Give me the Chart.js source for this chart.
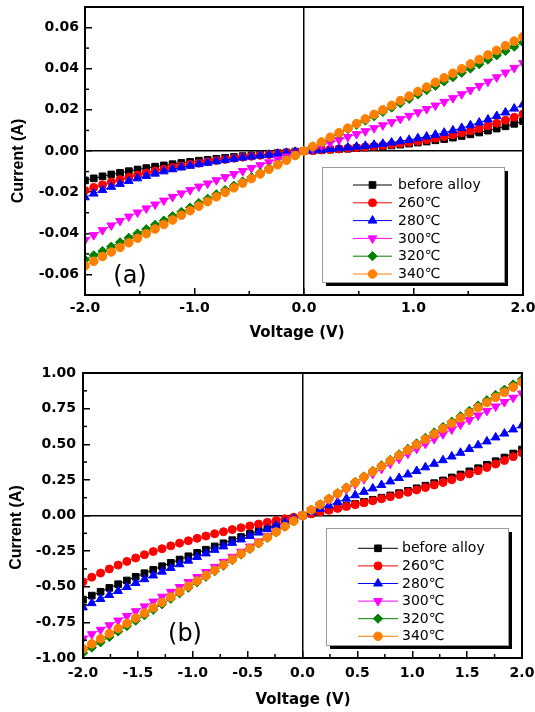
<!DOCTYPE html>
<html>
<head>
<meta charset="utf-8">
<script src="https://cdn.jsdelivr.net/npm/chart.js@4/dist/chart.umd.min.js"></script>
<style>
html,body{margin:0;padding:0;background:#fff;width:535px;height:712px;overflow:hidden}
.wrap{position:absolute;left:0;width:535px}
canvas{display:block}
</style>
</head>
<body>
<div class="wrap" style="top:0;height:342px"><canvas id="ca"></canvas></div>
<div class="wrap" style="top:342px;height:370px"><canvas id="cb"></canvas></div>
<script>
// ---------------- DATA ----------------
const voltage = [-2.00,-1.92,-1.84,-1.76,-1.68,-1.60,-1.52,-1.44,-1.36,-1.28,-1.20,-1.12,-1.04,-0.96,-0.88,-0.80,-0.72,-0.64,-0.56,-0.48,-0.40,-0.32,-0.24,-0.16,-0.08,0.00,0.08,0.16,0.24,0.32,0.40,0.48,0.56,0.64,0.72,0.80,0.88,0.96,1.04,1.12,1.20,1.28,1.36,1.44,1.52,1.60,1.68,1.76,1.84,1.92,2.00];

const seriesNames = ['before alloy','260\u2103','280\u2103','300\u2103','320\u2103','340\u2103'];

// panel (a) currents (A)
const aBefore = [-0.0143,-0.0133,-0.0123,-0.0114,-0.0106,-0.0098,-0.0090,-0.0083,-0.0076,-0.0070,-0.0064,-0.0058,-0.0053,-0.0047,-0.0043,-0.0038,-0.0033,-0.0029,-0.0025,-0.0021,-0.0018,-0.0014,-0.0010,-0.0007,-0.0003,0,
  0.0002,0.0004,0.0007,0.0009,0.0011,0.0014,0.0017,0.0020,0.0023,0.0027,0.0031,0.0036,0.0041,0.0046,0.0052,0.0058,0.0065,0.0073,0.0081,0.0090,0.0099,0.0109,0.0120,0.0132,0.0145];
const a260 = [-0.0192,-0.0177,-0.0164,-0.0151,-0.0139,-0.0127,-0.0117,-0.0107,-0.0097,-0.0089,-0.0080,-0.0073,-0.0065,-0.0059,-0.0052,-0.0046,-0.0041,-0.0035,-0.0030,-0.0026,-0.0021,-0.0017,-0.0012,-0.0008,-0.0004,0,
  0.0002,0.0005,0.0007,0.0010,0.0013,0.0016,0.0019,0.0023,0.0027,0.0032,0.0037,0.0042,0.0048,0.0055,0.0062,0.0070,0.0079,0.0088,0.0098,0.0109,0.0122,0.0135,0.0149,0.0164,0.0180];
const a280 = [-0.0225,-0.0207,-0.0190,-0.0174,-0.0160,-0.0146,-0.0133,-0.0121,-0.0110,-0.0099,-0.0089,-0.0080,-0.0072,-0.0064,-0.0057,-0.0050,-0.0044,-0.0038,-0.0032,-0.0027,-0.0022,-0.0018,-0.0013,-0.0009,-0.0004,0,
  0.0003,0.0006,0.0010,0.0013,0.0017,0.0021,0.0025,0.0030,0.0035,0.0041,0.0047,0.0054,0.0062,0.0070,0.0079,0.0089,0.0100,0.0112,0.0125,0.0138,0.0153,0.0170,0.0187,0.0206,0.0226];
const a300 = [-0.0433,-0.0409,-0.0385,-0.0362,-0.0340,-0.0319,-0.0299,-0.0279,-0.0260,-0.0241,-0.0223,-0.0206,-0.0190,-0.0173,-0.0158,-0.0142,-0.0127,-0.0112,-0.0097,-0.0083,-0.0069,-0.0055,-0.0041,-0.0027,-0.0014,0,
  0.0013,0.0027,0.0040,0.0054,0.0068,0.0082,0.0096,0.0111,0.0125,0.0140,0.0156,0.0171,0.0188,0.0204,0.0221,0.0239,0.0257,0.0276,0.0296,0.0316,0.0337,0.0358,0.0381,0.0404,0.0428];
const a320 = [-0.0528,-0.0507,-0.0486,-0.0465,-0.0444,-0.0422,-0.0401,-0.0380,-0.0359,-0.0338,-0.0317,-0.0296,-0.0275,-0.0253,-0.0232,-0.0211,-0.0190,-0.0169,-0.0148,-0.0127,-0.0106,-0.0084,-0.0063,-0.0042,-0.0021,0,
  0.0021,0.0042,0.0063,0.0084,0.0106,0.0127,0.0148,0.0169,0.0190,0.0211,0.0232,0.0253,0.0275,0.0296,0.0317,0.0338,0.0359,0.0380,0.0401,0.0422,0.0444,0.0465,0.0486,0.0507,0.0528];
const a340 = [-0.0558,-0.0536,-0.0513,-0.0491,-0.0469,-0.0446,-0.0424,-0.0402,-0.0379,-0.0357,-0.0335,-0.0312,-0.0290,-0.0268,-0.0246,-0.0223,-0.0201,-0.0179,-0.0156,-0.0134,-0.0112,-0.0089,-0.0067,-0.0045,-0.0022,0,
  0.0022,0.0044,0.0067,0.0089,0.0111,0.0133,0.0156,0.0178,0.0200,0.0222,0.0245,0.0267,0.0289,0.0311,0.0334,0.0356,0.0378,0.0400,0.0423,0.0445,0.0467,0.0489,0.0512,0.0534,0.0556];

// panel (b) currents (A)
const bBefore = [-0.590,-0.562,-0.535,-0.508,-0.482,-0.456,-0.430,-0.405,-0.381,-0.356,-0.332,-0.309,-0.286,-0.262,-0.240,-0.217,-0.195,-0.173,-0.151,-0.129,-0.107,-0.086,-0.064,-0.043,-0.021,0,
  0.013,0.027,0.040,0.054,0.067,0.081,0.096,0.110,0.125,0.141,0.157,0.173,0.191,0.209,0.227,0.246,0.267,0.288,0.310,0.332,0.356,0.381,0.407,0.435,0.463];
const b260 = [-0.465,-0.433,-0.404,-0.375,-0.348,-0.322,-0.298,-0.275,-0.253,-0.233,-0.213,-0.194,-0.177,-0.160,-0.144,-0.128,-0.114,-0.099,-0.086,-0.073,-0.060,-0.048,-0.035,-0.023,-0.012,0,
  0.012,0.025,0.037,0.050,0.063,0.076,0.089,0.103,0.117,0.132,0.147,0.163,0.179,0.196,0.214,0.232,0.251,0.272,0.292,0.314,0.337,0.361,0.386,0.413,0.440];
const b280 = [-0.645,-0.615,-0.586,-0.558,-0.530,-0.502,-0.474,-0.447,-0.421,-0.394,-0.368,-0.342,-0.317,-0.291,-0.266,-0.241,-0.217,-0.192,-0.168,-0.144,-0.120,-0.096,-0.072,-0.048,-0.024,0,
  0.024,0.047,0.071,0.094,0.118,0.142,0.166,0.190,0.214,0.239,0.263,0.288,0.312,0.338,0.363,0.388,0.414,0.440,0.467,0.493,0.520,0.548,0.575,0.604,0.632];
const b300 = [-0.864,-0.833,-0.802,-0.770,-0.737,-0.705,-0.672,-0.638,-0.604,-0.570,-0.536,-0.502,-0.467,-0.432,-0.397,-0.361,-0.325,-0.290,-0.254,-0.218,-0.182,-0.145,-0.109,-0.073,-0.036,0,
  0.037,0.073,0.110,0.147,0.183,0.219,0.256,0.292,0.327,0.363,0.398,0.434,0.468,0.503,0.537,0.571,0.604,0.638,0.670,0.702,0.734,0.765,0.796,0.826,0.856];
const b320 = [-0.965,-0.927,-0.890,-0.852,-0.814,-0.776,-0.738,-0.700,-0.662,-0.623,-0.585,-0.546,-0.507,-0.469,-0.430,-0.391,-0.352,-0.313,-0.274,-0.235,-0.196,-0.157,-0.118,-0.078,-0.039,0,
  0.039,0.078,0.118,0.157,0.196,0.235,0.274,0.313,0.352,0.390,0.429,0.468,0.506,0.545,0.583,0.621,0.659,0.697,0.734,0.772,0.809,0.846,0.883,0.920,0.956];
const b340 = [-0.936,-0.901,-0.865,-0.829,-0.793,-0.757,-0.720,-0.684,-0.647,-0.610,-0.572,-0.535,-0.497,-0.460,-0.422,-0.384,-0.346,-0.308,-0.269,-0.231,-0.193,-0.154,-0.116,-0.077,-0.039,0,
  0.039,0.077,0.116,0.154,0.193,0.231,0.269,0.308,0.346,0.384,0.422,0.460,0.497,0.535,0.572,0.610,0.647,0.684,0.720,0.757,0.793,0.829,0.865,0.901,0.936];

// tick values and labels
const aXMajor = [-2, -1, 0, 1, 2];
const aXLabels = ['-2.0', '-1.0', '0.0', '1.0', '2.0'];
const aXMinor = [-1.5, -0.5, 0.5, 1.5];
const aYMajor = [-0.06, -0.04, -0.02, 0, 0.02, 0.04, 0.06];
const aYLabels = ['-0.06', '-0.04', '-0.02', '0.00', '0.02', '0.04', '0.06'];
const aYMinor = [-0.05, -0.03, -0.01, 0.01, 0.03, 0.05];

const bXMajor = [-2, -1.5, -1, -0.5, 0, 0.5, 1, 1.5, 2];
const bXLabels = ['-2.0', '-1.5', '-1.0', '-0.5', '0.0', '0.5', '1.0', '1.5', '2.0'];
const bXMinor = [-1.75, -1.25, -0.75, -0.25, 0.25, 0.75, 1.25, 1.75];
const bYMajor = [-1, -0.75, -0.5, -0.25, 0, 0.25, 0.5, 0.75, 1];
const bYLabels = ['-1.00', '-0.75', '-0.50', '-0.25', '0.00', '0.25', '0.50', '0.75', '1.00'];
const bYMinor = [-0.875, -0.625, -0.375, -0.125, 0.125, 0.375, 0.625, 0.875];

// ---------------- STYLES ----------------
const seriesStyles = [
  {color: '#000000', pointStyle: 'rect', radius: 4.7, rotation: 0},
  {color: '#ff0000', pointStyle: 'circle', radius: 4.0, rotation: 0},
  {color: '#0000ff', pointStyle: 'triangle', radius: 5.0, rotation: 0},
  {color: '#ff00ff', pointStyle: 'triangle', radius: 5.0, rotation: 180},
  {color: '#008000', pointStyle: 'rectRot', radius: 4.6, rotation: 0},
  {color: '#ff8000', pointStyle: 'circle', radius: 4.3, rotation: 0}
];

function makeDatasets(seriesList) {
  return seriesList.map((vals, i) => {
    const st = seriesStyles[i];
    return {
      label: seriesNames[i],
      data: voltage.map((v, k) => ({x: v, y: vals[k]})),
      borderColor: st.color,
      backgroundColor: st.color,
      borderWidth: 1,
      pointStyle: st.pointStyle,
      pointRotation: st.rotation,
      pointRadius: st.radius,
      pointBorderWidth: 1,
      pointBackgroundColor: st.color,
      pointBorderColor: st.color,
      tension: 0,
      clip: 0,
      order: 5 - i
    };
  });
}

function drawMarker(ctx, st, x, y) {
  const r = st.radius;
  ctx.save();
  ctx.fillStyle = st.color;
  ctx.strokeStyle = st.color;
  ctx.lineWidth = 1;
  ctx.beginPath();
  if (st.pointStyle === 'circle') {
    ctx.arc(x, y, r, 0, Math.PI * 2);
  } else if (st.pointStyle === 'rect') {
    const s = r * Math.SQRT1_2;
    ctx.rect(x - s, y - s, 2 * s, 2 * s);
  } else if (st.pointStyle === 'rectRot') {
    ctx.moveTo(x, y - r); ctx.lineTo(x + r, y); ctx.lineTo(x, y + r); ctx.lineTo(x - r, y); ctx.closePath();
  } else if (st.pointStyle === 'triangle') {
    let rad = st.rotation * Math.PI / 180;
    ctx.moveTo(x + Math.sin(rad) * r, y - Math.cos(rad) * r);
    rad += Math.PI * 2 / 3;
    ctx.lineTo(x + Math.sin(rad) * r, y - Math.cos(rad) * r);
    rad += Math.PI * 2 / 3;
    ctx.lineTo(x + Math.sin(rad) * r, y - Math.cos(rad) * r);
    ctx.closePath();
  }
  ctx.fill();
  ctx.stroke();
  ctx.restore();
}

function makeDecor(cfg) {
  return {
    id: 'decor',
    afterDatasetsDraw(chart) {
      const ctx = chart.ctx;
      const a = chart.chartArea;
      const xs = chart.scales.x, ys = chart.scales.y;
      ctx.save();
      ctx.strokeStyle = '#000';
      ctx.lineWidth = 1.5;
      // minor ticks (inward)
      cfg.xMinor.forEach(v => {
        const px = xs.getPixelForValue(v);
        ctx.beginPath(); ctx.moveTo(px, a.bottom); ctx.lineTo(px, a.bottom - 4); ctx.stroke();
      });
      cfg.yMinor.forEach(v => {
        const py = ys.getPixelForValue(v);
        ctx.beginPath(); ctx.moveTo(a.left, py); ctx.lineTo(a.left + 4, py); ctx.stroke();
      });
      // frame
      ctx.lineWidth = 2;
      ctx.strokeRect(a.left, a.top, a.right - a.left, a.bottom - a.top);
      ctx.restore();
    },
    afterDraw(chart) {
      const ctx = chart.ctx;
      const L = cfg.legend;
      ctx.save();
      // legend box with shadow
      ctx.fillStyle = '#000';
      ctx.fillRect(L.x + 4, L.y + 4, L.w, L.h);
      ctx.fillStyle = '#fff';
      ctx.fillRect(L.x, L.y, L.w, L.h);
      ctx.strokeStyle = '#9a9a9a';
      ctx.lineWidth = 1;
      ctx.strokeRect(L.x + 0.5, L.y + 0.5, L.w, L.h);
      ctx.font = '14px "DejaVu Sans", "Noto Sans CJK SC", sans-serif';
      ctx.textAlign = 'left';
      ctx.textBaseline = 'middle';
      chart.data.datasets.forEach((ds, i) => {
        const st = seriesStyles[i];
        const ry = L.row0 + i * L.rowGap;
        ctx.strokeStyle = st.color;
        ctx.lineWidth = 1;
        ctx.beginPath(); ctx.moveTo(L.lx1, ry); ctx.lineTo(L.lx2, ry); ctx.stroke();
        drawMarker(ctx, st, (L.lx1 + L.lx2) / 2, ry);
        ctx.fillStyle = '#000';
        ctx.fillText(ds.label, L.tx, ry + 0.5);
      });
      // panel label
      ctx.fillStyle = '#000';
      ctx.font = '24px "DejaVu Sans", sans-serif';
      ctx.textAlign = 'center';
      ctx.textBaseline = 'middle';
      ctx.fillText(cfg.panel.text, cfg.panel.x, cfg.panel.y);
      // axis titles
      ctx.font = 'bold 15px "DejaVu Sans", sans-serif';
      ctx.fillText('Voltage (V)', cfg.xTitle.x, cfg.xTitle.y);
      ctx.save();
      ctx.translate(cfg.yTitle.x, cfg.yTitle.y);
      ctx.rotate(-Math.PI / 2);
      ctx.font = 'bold 16px "Liberation Sans", Arial, sans-serif';
      ctx.fillText('Current (A)', 0, 0);
      ctx.restore();
      ctx.restore();
    }
  };
}

function makeChart(id, seriesList, cfg) {
  const zeroColor = c => (c.tick && Math.abs(c.tick.value) < 1e-9) ? '#000' : 'rgba(0,0,0,0)';
  const tickFont = {family: 'DejaVu Sans', weight: 'bold', size: 14};
  return new Chart(document.getElementById(id), {
    type: 'line',
    data: {datasets: makeDatasets(seriesList)},
    options: {
      responsive: true,
      maintainAspectRatio: false,
      animation: false,
      devicePixelRatio: 1,
      layout: {padding: cfg.padding},
      plugins: {legend: {display: false}, tooltip: {enabled: false}},
      scales: {
        x: {
          type: 'linear', position: 'bottom', min: cfg.xMin, max: cfg.xMax,
          afterBuildTicks: s => { s.ticks = cfg.xMajor.map(v => ({value: v})); },
          ticks: {autoSkip: false, maxRotation: 0, minRotation: 0, padding: cfg.xPad, color: '#000', font: tickFont,
            callback: (v, i) => cfg.xLabels[i]},
          grid: {drawOnChartArea: true, drawTicks: true, tickLength: -7, tickWidth: 1.5, tickColor: '#000', color: zeroColor, lineWidth: 1.5},
          border: {display: false},
          title: {display: false},
          afterFit: s => { s.height = cfg.xH; s.paddingLeft = 0; s.paddingRight = 0; }
        },
        y: {
          type: 'linear', position: 'left', min: cfg.yMin, max: cfg.yMax,
          afterBuildTicks: s => { s.ticks = cfg.yMajor.map(v => ({value: v})); },
          ticks: {autoSkip: false, padding: cfg.yPad, color: '#000', font: tickFont,
            callback: (v, i) => cfg.yLabels[i]},
          grid: {drawOnChartArea: true, drawTicks: true, tickLength: -7, tickWidth: 1.5, tickColor: '#000', color: zeroColor, lineWidth: 1.5},
          border: {display: false},
          title: {display: false},
          afterFit: s => { s.width = cfg.yW; s.paddingTop = 0; s.paddingBottom = 0; }
        }
      }
    },
    plugins: [makeDecor(cfg)]
  });
}

makeChart('ca', [aBefore, a260, a280, a300, a320, a340], {
  padding: {top: 7, right: 12, left: 0, bottom: 0},
  xMin: -2, xMax: 2, yMin: -0.07, yMax: 0.07,
  xMajor: aXMajor, xLabels: aXLabels, xMinor: aXMinor,
  yMajor: aYMajor, yLabels: aYLabels, yMinor: aYMinor,
  xH: 47, yW: 85, xPad: 12, yPad: 13,
  legend: {x: 322, y: 167, w: 182, h: 115, row0: 185, rowGap: 17.8, lx1: 353, lx2: 392, tx: 398},
  panel: {text: '(a)', x: 130, y: 277},
  xTitle: {x: 297, y: 333},
  yTitle: {x: 18.5, y: 161}
});

makeChart('cb', [bBefore, b260, b280, b300, b320, b340], {
  padding: {top: 31, right: 13, left: 0, bottom: 0},
  xMin: -2, xMax: 2, yMin: -1, yMax: 1,
  xMajor: bXMajor, xLabels: bXLabels, xMinor: bXMinor,
  yMajor: bYMajor, yLabels: bYLabels, yMinor: bYMinor,
  xH: 54, yW: 83, xPad: 14, yPad: 14,
  legend: {x: 326, y: 186, w: 182, h: 117, row0: 206.3, rowGap: 17.6, lx1: 358, lx2: 398, tx: 402},
  panel: {text: '(b)', x: 185, y: 293},
  xTitle: {x: 303, y: 358},
  yTitle: {x: 16.5, y: 185.5}
});
</script>
</body>
</html>
